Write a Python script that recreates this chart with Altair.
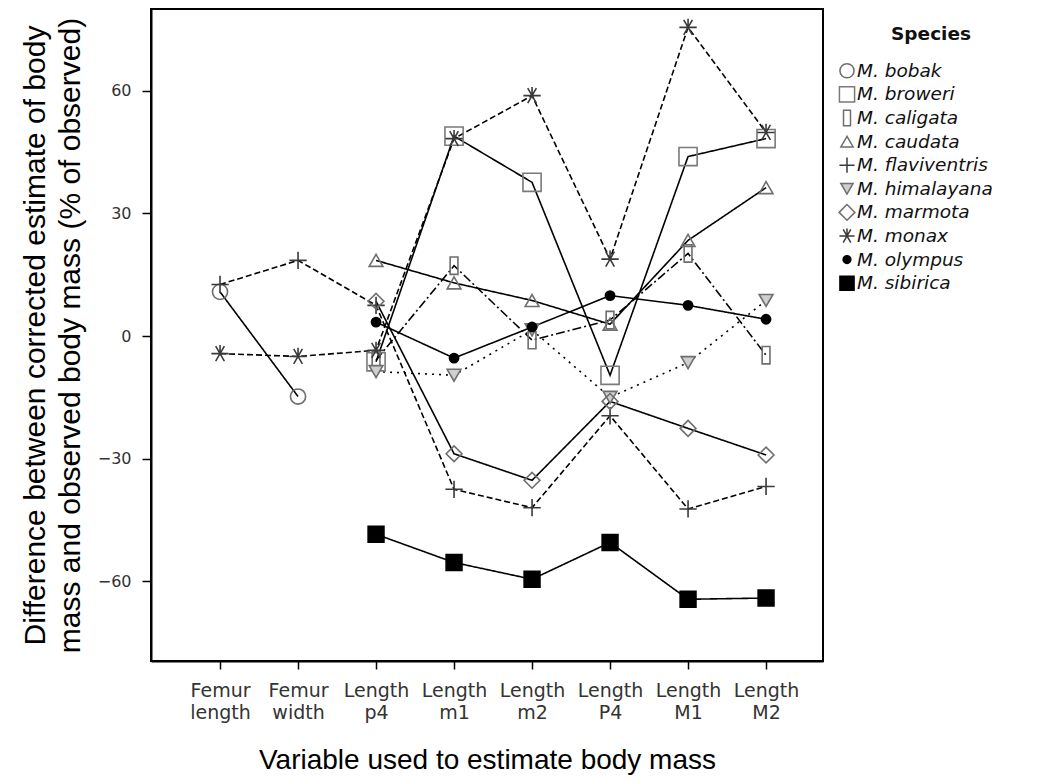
import json
import altair as alt
import pandas as pd

# ---- data ----
variables = ["Femur length", "Femur width", "Length p4", "Length m1",
             "Length m2", "Length P4", "Length M1", "Length M2"]
species = ["M. bobak", "M. broweri", "M. caligata", "M. caudata", "M. flaviventris",
           "M. himalayana", "M. marmota", "M. monax", "M. olympus", "M. sibirica"]

bobak = [10.8, -14.8, None, None, None, None, None, None]
broweri = [None, None, -6.3, 48.9, 37.6, -9.6, 43.9, 48.3]
caligata = [None, None, -5.9, 17.2, -1.0, 3.9, 20.2, -4.7]
caudata = [None, None, 18.5, 13.0, 8.7, 2.9, 23.4, 36.3]
flaviventris = [12.6, 18.5, 7.5, -37.5, -42.0, -19.5, -42.3, -36.8]
himalayana = [None, None, -8.7, -9.6, 1.5, -15.0, -6.5, 8.7]
marmota = [None, None, 8.5, -28.8, -35.3, -16.0, -22.6, -29.1]
monax = [-4.3, -5.0, -3.5, 48.3, 58.8, 18.8, 75.5, 49.8]
olympus = [None, None, 3.4, -5.4, 2.2, 9.9, 7.5, 4.1]
sibirica = [None, None, -48.5, -55.4, -59.5, -50.5, -64.4, -64.1]

y_ticks = [-60, -30, 0, 30, 60]
legend_title = ["Species"]

series = [bobak, broweri, caligata, caudata, flaviventris,
          himalayana, marmota, monax, olympus, sibirica]

# ---- styles ----
solid = [1, 0]
dashed = [6, 3]
dashdot = [9, 3, 2, 3]
dotted = [2, 5]
dash_range = [solid, solid, dashdot, solid, dashed, dotted, solid, dashed, solid, solid]

rect_path = "M-0.45,-1H0.45V1H-0.45Z"
plus_path = "M-1,0H1M0,-1V1"
star_path = "M-1,0H1M-0.5,-0.866L0.5,0.866M-0.5,0.866L0.5,-0.866M0,-1V0"
shape_range = ["circle", "square", rect_path, "triangle-up", plus_path,
               "triangle-down", "diamond", star_path, "circle", "square"]
marker_sizes = [230, 330, 300, 190, 300, 190, 250, 300, 85, 250]
legend_sizes = [200, 230, 240, 150, 230, 150, 250, 230, 60, 200]
fill_range = ["transparent", "transparent", "transparent", "transparent", "transparent",
              "#cfcfcf", "transparent", "transparent", "black", "black"]
stroke_range = ["#6e6e6e", "#7a7a7a", "#6e6e6e", "#6e6e6e", "#3a3a3a",
                "#6e6e6e", "#6e6e6e", "#3a3a3a", "black", "black"]

rows = []
for sp, vals, sz in zip(species, series, marker_sizes):
    for i, v in enumerate(vals):
        if v is not None:
            rows.append({"species": sp, "line_id": sp, "idx": i, "variable": variables[i],
                         "value": v, "msize": sz})
df = pd.DataFrame(rows)
legend_df = pd.DataFrame({"species": species, "msize": legend_sizes})
legend_title_df = pd.DataFrame({"title": legend_title})

shape_scale = alt.Scale(domain=species, range=shape_range)
fill_scale = alt.Scale(domain=species, range=fill_range)
stroke_scale = alt.Scale(domain=species, range=stroke_range)

label_expr = "split(" + json.dumps(variables) + "[datum.value], ' ')"

x_enc = alt.X(
    "idx:Q",
    scale=alt.Scale(domain=[-0.885, 7.73], nice=False, zero=False),
    axis=alt.Axis(
        values=list(range(len(variables))), labelExpr=label_expr,
        title="Variable used to estimate body mass", grid=False,
        tickSize=8, tickColor="black", tickWidth=1.5,
        labelFont="DejaVu Sans", labelFontSize=19, labelColor="#333333",
        labelPadding=12, labelLineHeight=22,
        titleFont="Liberation Sans", titleFontSize=28, titleFontWeight="normal",
        titleColor="black", titlePadding=24,
        domainColor="black", domainWidth=2,
    ),
)
y_enc = alt.Y(
    "value:Q",
    scale=alt.Scale(domain=[-79.5, 80], nice=False, zero=False),
    axis=alt.Axis(
        values=y_ticks, grid=False,
        title=["Difference between corrected estimate of body",
               "mass and observed body mass (% of observed)"],
        tickSize=9, tickColor="black", tickWidth=1.5,
        labelFont="DejaVu Sans", labelFontSize=16, labelColor="#333333",
        labelPadding=11,
        titleFont="Liberation Sans", titleFontSize=30, titleFontWeight="normal",
        titleColor="black", titlePadding=12, titleLineHeight=35,
        domainColor="black", domainWidth=2,
    ),
)

lines = alt.Chart(df).mark_line(color="black", strokeWidth=1.6).encode(
    x=x_enc,
    y=y_enc,
    strokeDash=alt.StrokeDash("line_id:N", scale=alt.Scale(domain=species, range=dash_range),
                              legend=None),
)

points = alt.Chart(df).mark_point(strokeWidth=1.6, opacity=1).encode(
    x=x_enc,
    y=y_enc,
    size=alt.Size("msize:Q", scale=None, legend=None),
    shape=alt.Shape("species:N", scale=shape_scale, legend=None),
    fill=alt.Fill("species:N", scale=fill_scale, legend=None),
    stroke=alt.Stroke("species:N", scale=stroke_scale, legend=None),
)

main = alt.layer(lines, points).properties(width=672, height=652)

# ---- legend panel (species keyed through the same scales) ----
leg_base = alt.Chart(legend_df).encode(
    y=alt.Y("species:N", sort=species,
            scale=alt.Scale(domain=species, range=[50, 286], paddingInner=0, paddingOuter=0),
            axis=None),
)
leg_symbols = leg_base.mark_point(strokeWidth=1.5, opacity=1).encode(
    x=alt.value(13),
    size=alt.Size("msize:Q", scale=None, legend=None),
    shape=alt.Shape("species:N", scale=shape_scale, legend=None),
    fill=alt.Fill("species:N", scale=fill_scale, legend=None),
    stroke=alt.Stroke("species:N", scale=stroke_scale, legend=None),
)
leg_labels = leg_base.mark_text(
    align="left", baseline="middle", font="DejaVu Sans", fontStyle="italic",
    fontSize=18.5, color="#111111",
).encode(x=alt.value(23), text="species:N")

leg_title = alt.Chart(legend_title_df).mark_text(
    align="center", baseline="middle", font="DejaVu Sans", fontWeight="bold",
    fontSize=18.5, color="#111111",
).encode(x=alt.value(97), y=alt.value(25), text="title:N")

legend_panel = alt.layer(leg_symbols, leg_labels, leg_title).properties(
    width=190, height=300,
    view=alt.ViewBackground(stroke=None),
)

chart = alt.hconcat(main, legend_panel, spacing=10).properties(
    padding={"left": 11, "top": 0, "right": 0, "bottom": 0},
).resolve_scale(y="independent").configure_view(stroke="black", strokeWidth=2)

chart.save("out.html", embed_options={"renderer": "svg", "actions": False})
